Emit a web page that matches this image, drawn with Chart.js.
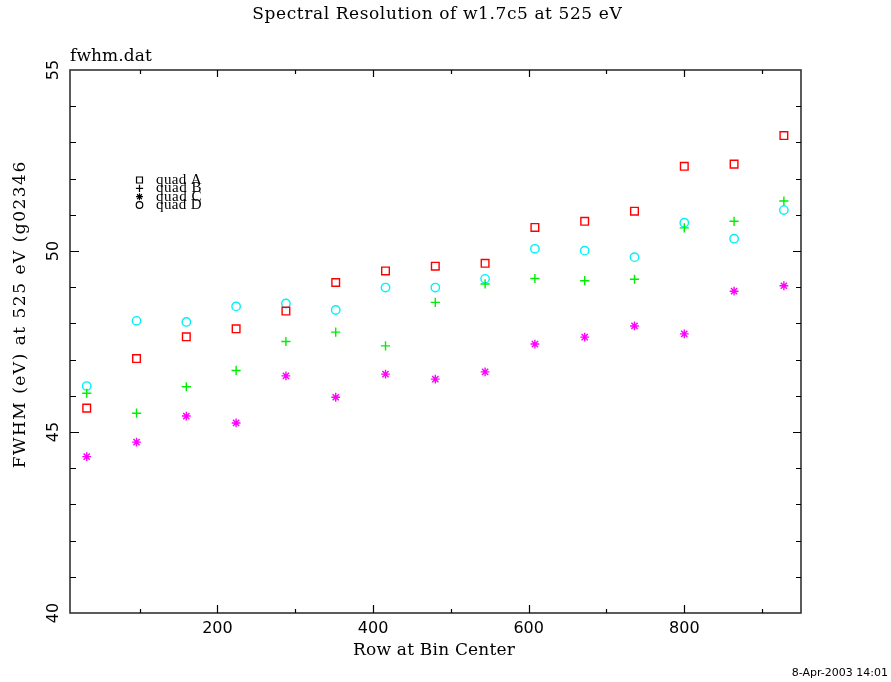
<!DOCTYPE html>
<html>
<head>
<meta charset="utf-8">
<script src="https://cdn.jsdelivr.net/npm/chart.js@4.4.0/dist/chart.umd.min.js"></script>
<style>
  html, body { margin: 0; padding: 0; background: #fff; }
  canvas { display: block; }
</style>
</head>
<body>
<canvas id="fwhm" width="891" height="682"></canvas>
<script>
// bin centres (row) and FWHM per quadrant
const rowCenters = [32, 96, 160, 224, 288, 352, 416, 480, 544, 608, 672, 736, 800, 864, 928];
const quadA = [45.66, 47.03, 47.63, 47.85, 48.34, 49.13, 49.45, 49.58, 49.66, 50.65, 50.82, 51.10, 52.34, 52.40, 53.19];
const quadB = [46.07, 45.52, 46.25, 46.70, 47.50, 47.76, 47.38, 48.58, 49.09, 49.24, 49.18, 49.22, 50.64, 50.82, 51.38];
const quadC = [44.32, 44.72, 45.44, 45.25, 46.55, 45.96, 46.60, 46.46, 46.66, 47.43, 47.62, 47.93, 47.71, 48.89, 49.04];
const quadD = [46.27, 48.07, 48.04, 48.47, 48.55, 48.37, 48.99, 48.99, 49.23, 50.06, 50.01, 49.83, 50.78, 50.34, 51.13];
const seriesNames = ['quad A', 'quad B', 'quad C', 'quad D'];

const titleText = 'Spectral Resolution of w1.7c5 at 525 eV';
const fileText = 'fwhm.dat';
const xTitle = 'Row at Bin Center';
const yTitle = 'FWHM (eV) at 525 eV (g02346';
const stampText = '8-Apr-2003 14:01';

const serif = 'DejaVu Serif';
const keySerif = 'Liberation Serif';
const sans = 'DejaVu Sans';

const symbols = [
  { style: 'rect', color: '#ff0000', r: 5.4 },
  { style: 'cross', color: '#00ee00', r: 4.6 },
  { style: 'star', color: '#ff00ff', r: 4.4 },
  { style: 'circle', color: '#00f0f8', r: 4.2 }
];

function toPoints(values) {
  return values.map((v, i) => ({ x: rowCenters[i], y: v }));
}

function makeSet(i, values) {
  const s = symbols[i];
  return {
    label: seriesNames[i],
    data: toPoints(values),
    showLine: false,
    pointStyle: s.style,
    pointRadius: s.r,
    pointHoverRadius: s.r,
    pointBorderWidth: 1.4,
    borderColor: s.color,
    backgroundColor: 'rgba(0,0,0,0)'
  };
}

// text squeezed/stretched to a given width with letter spacing
function spacedText(ctx, text, x, y, width) {
  ctx.letterSpacing = '0px';
  const w = ctx.measureText(text).width;
  const ls = (width - w) / text.length;
  ctx.letterSpacing = ls.toFixed(2) + 'px';
  ctx.fillText(text, x + (ctx.textAlign === 'center' ? ls / 2 : 0), y);
  ctx.letterSpacing = '0px';
}

const framePlugin = {
  id: 'frame',
  afterDraw(chart) {
    const { ctx, chartArea: a, scales } = chart;
    const xs = scales.x, ys = scales.y;
    ctx.save();

    // box round the plot
    ctx.strokeStyle = '#333';
    ctx.lineWidth = 1.6;
    ctx.strokeRect(a.left, a.top, a.right - a.left, a.bottom - a.top);

    // inward tick marks on all four sides
    ctx.strokeStyle = '#000';
    ctx.lineWidth = 1.2;
    ctx.beginPath();
    for (let v = 100; v <= 900; v += 100) {
      const px = Math.round(xs.getPixelForValue(v)) + 0.5;
      const major = v % 200 === 0;
      ctx.moveTo(px, a.bottom); ctx.lineTo(px, a.bottom - (major ? 8 : 4));
      ctx.moveTo(px, a.top); ctx.lineTo(px, a.top + (major ? 7 : 4));
    }
    for (let v = 41; v <= 54; v++) {
      const py = Math.round(ys.getPixelForValue(v)) + 0.5;
      const major = v % 5 === 0;
      ctx.moveTo(a.left, py); ctx.lineTo(a.left + (major ? 9 : 6), py);
      ctx.moveTo(a.right, py); ctx.lineTo(a.right - (major ? 8 : 5), py);
    }
    ctx.stroke();

    // titles
    ctx.fillStyle = '#000';
    ctx.textBaseline = 'middle';
    ctx.textAlign = 'center';
    ctx.font = '17px "' + serif + '"';
    spacedText(ctx, titleText, 437, 15, 370);
    spacedText(ctx, xTitle, 434, 651, 162);

    ctx.textAlign = 'left';
    ctx.font = '17px "' + serif + '"';
    spacedText(ctx, fileText, 70, 57, 82);

    ctx.save();
    ctx.translate(21, 315);
    ctx.rotate(-Math.PI / 2);
    ctx.textAlign = 'center';
    ctx.font = '17px "' + serif + '"';
    spacedText(ctx, yTitle, 0, 0, 308);
    ctx.restore();

    ctx.textAlign = 'right';
    ctx.font = '11px "' + sans + '"';
    ctx.fillText(stampText, 888, 673);

    // key, black symbols
    const keyY = [180, 188.3, 196.7, 205];
    ctx.strokeStyle = '#000';
    ctx.fillStyle = 'rgba(0,0,0,0)';
    symbols.forEach((s, i) => {
      Chart.helpers.drawPoint(ctx, {
        pointStyle: s.style, radius: s.r * 0.78, borderWidth: 1.2, rotation: 0
      }, 139.5, keyY[i]);
    });
    ctx.fillStyle = '#000';
    ctx.textAlign = 'left';
    ctx.font = '15px "' + keySerif + '"';
    seriesNames.forEach((n, i) => spacedText(ctx, n, 156, keyY[i], 46));

    ctx.restore();
  }
};

const tickFont = { family: sans, size: 16 };

new Chart(document.getElementById('fwhm'), {
  type: 'scatter',
  data: {
    datasets: [
      makeSet(0, quadA),
      makeSet(1, quadB),
      makeSet(2, quadC),
      makeSet(3, quadD)
    ]
  },
  options: {
    responsive: false,
    animation: false,
    layout: { padding: { top: 70, right: 90, left: 0, bottom: 0 } },
    plugins: {
      legend: { display: false },
      tooltip: { enabled: false }
    },
    scales: {
      x: {
        type: 'linear',
        position: 'bottom',
        min: 10.5,
        max: 950,
        grid: { display: false, drawTicks: false },
        border: { display: false },
        ticks: {
          stepSize: 200,
          includeBounds: false,
          maxRotation: 0,
          padding: 6,
          color: '#000',
          font: tickFont
        },
        afterFit(scale) { scale.height = 69; }
      },
      y: {
        type: 'linear',
        position: 'left',
        min: 40,
        max: 55,
        grid: { display: false, drawTicks: false },
        border: { display: false },
        ticks: {
          stepSize: 5,
          minRotation: 90,
          maxRotation: 90,
          crossAlign: 'center',
          padding: 6,
          color: '#000',
          font: tickFont
        },
        afterFit(scale) { scale.width = 70; }
      }
    }
  },
  plugins: [framePlugin]
});
</script>
</body>
</html>
